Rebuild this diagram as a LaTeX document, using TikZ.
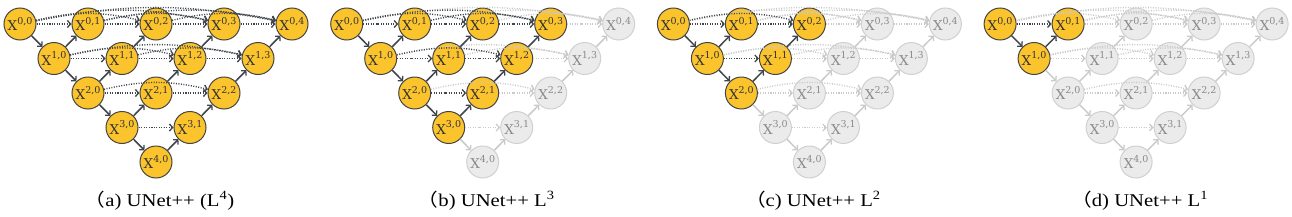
\documentclass[tikz,border=0pt]{standalone}
\usepackage{fontspec}
\setmainfont{Liberation Serif}
\newfontfamily\nodefont{DejaVu Serif}
\newfontfamily\cjk{Noto Sans CJK SC}
\usetikzlibrary{arrows.meta}
\definecolor{gold}{HTML}{FCC42C}
\definecolor{edgedark}{HTML}{3F454B}
\definecolor{nodeborder}{HTML}{444444}
\definecolor{nodetext}{HTML}{333333}
\definecolor{grayfill}{HTML}{EBEBEB}
\definecolor{grayborder}{HTML}{D0D0D0}
\definecolor{graytext}{HTML}{8A8A8A}
\definecolor{grayedge}{HTML}{CACACA}
\newcommand{\xlab}[2]{X\raisebox{6.3bp}{\fontsize{9.5bp}{10bp}\selectfont #1,#2}}
\newcommand{\capwide}[1]{\scalebox{1.15}[1]{#1}}
\tikzset{
  unetnode/.style={circle, minimum size=32bp, inner sep=0pt, line width=1bp,
    font=\nodefont\fontsize{13.5bp}{14bp}\selectfont},
  onnode/.style={unetnode, fill=gold, draw=nodeborder, text=nodetext},
  offnode/.style={unetnode, fill=grayfill, draw=grayborder, text=graytext},
  tipstyle/.style={-{Straight Barb[length=3.2bp,width=7bp,line width=1.3bp]}},
  solidedge/.style={tipstyle, line width=1.5bp},
  skipedge/.style={tipstyle, line width=1.4bp, dash pattern=on 1bp off 1.5bp},
  edge0/.style={draw=grayedge},
  edge1/.style={draw=edgedark},
  caption/.style={anchor=base, font=\fontsize{18bp}{20bp}\selectfont}
}
\begin{document}
\begin{tikzpicture}[x=1bp,y=-1bp]
\useasboundingbox (0,0) rectangle (1292,216);
\foreach \p/\L in {0/4,1/3,2/2,3/1} {
  \foreach \i in {0,...,4} {
    \pgfmathtruncatemacro\jmax{4-\i}
    \foreach \j in {0,...,\jmax} {
      \pgfmathsetmacro\xx{20+326.7*\p+34*\i+68*\j}
      \pgfmathsetmacro\yy{24+34.5*\i}
      \pgfmathtruncatemacro\act{(\i+\j<=\L)?1:0}
      \ifnum\act=1
        \node[onnode] (p\p n\i\j) at (\xx,\yy) {\xlab{\i}{\j}};
      \else
        \node[offnode] (p\p n\i\j) at (\xx,\yy) {\xlab{\i}{\j}};
      \fi
    }
  }
  \foreach \pass in {0,1} {
    \foreach \i in {0,...,3} {
      \pgfmathtruncatemacro\ii{\i+1}
      \pgfmathtruncatemacro\act{(\ii<=\L)?1:0}
      \ifnum\act=\pass
        \draw[solidedge, edge\pass] (p\p n\i0) -- (p\p n\ii0);
      \fi
      \pgfmathtruncatemacro\jmax{4-\i}
      \foreach \j in {1,...,\jmax} {
        \pgfmathtruncatemacro\jj{\j-1}
        \pgfmathtruncatemacro\act{(\i+\j<=\L)?1:0}
        \ifnum\act=\pass
          \draw[solidedge, edge\pass] (p\p n\ii\jj) -- (p\p n\i\j);
          \foreach \k in {0,...,\jj} {
            \pgfmathtruncatemacro\bend{(\j-\k>=2)?(15-\j+\k):0}
            \draw[skipedge, edge\pass] (p\p n\i\k) to[bend left=\bend] (p\p n\i\j);
          }
        \fi
      }
    }
  }
}
\node[caption] (capa) at (159.5,206) {\capwide{{\cjk （}a) UNet++ (L\textsuperscript{4})}};
\node[caption] (capb) at (486.2,206) {\capwide{{\cjk （}b) UNet++ L\textsuperscript{3}}};
\node[caption] (capc) at (812.9,206) {\capwide{{\cjk （}c) UNet++ L\textsuperscript{2}}};
\node[caption] (capd) at (1139.6,206) {\capwide{{\cjk （}d) UNet++ L\textsuperscript{1}}};
\end{tikzpicture}
\end{document}
